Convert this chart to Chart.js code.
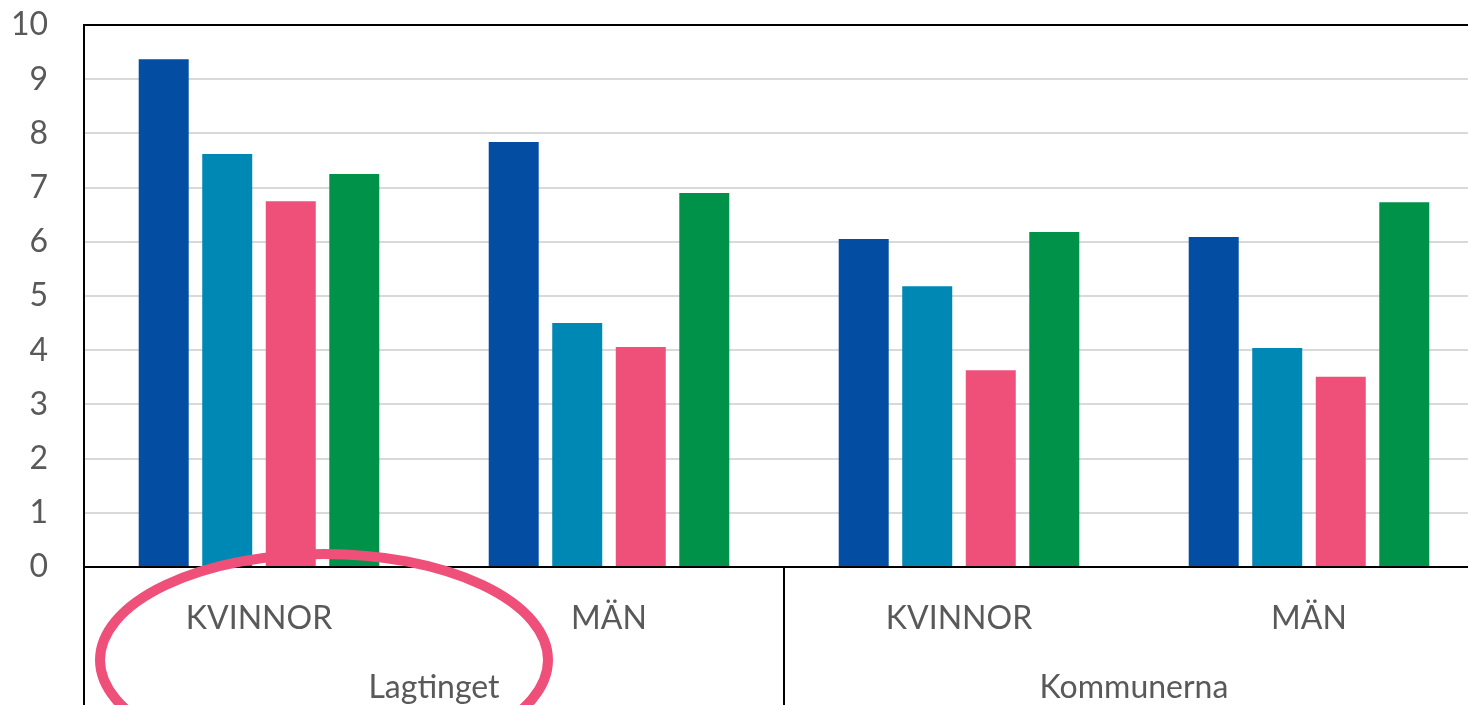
<!DOCTYPE html>
<html>
<head>
<meta charset="utf-8">
<script src="https://cdn.jsdelivr.net/npm/chart.js@4.4.1/dist/chart.umd.min.js"></script>
<style>
  html, body { margin: 0; padding: 0; background: #ffffff; overflow: hidden; }
  #wrap { width: 1484px; height: 705px; }
</style>
</head>
<body>
<div id="wrap"><canvas id="c" width="1484" height="705"></canvas></div>
<script>
const categories = ["KVINNOR", "MÄN", "KVINNOR", "MÄN"];
const groups = ["Lagtinget", "Kommunerna"];
const yTicks = [0, 1, 2, 3, 4, 5, 6, 7, 8, 9, 10];
const series1 = [9.37, 7.84, 6.05, 6.09];
const series2 = [7.62, 4.50, 5.18, 4.04];
const series3 = [6.75, 4.06, 3.63, 3.51];
const series4 = [7.25, 6.90, 6.18, 6.73];

const FONT = "Lato, 'Open Sans', sans-serif";
const TEXT = "#595959";

const extras = {
  id: "extras",
  afterDraw(chart) {
    const ctx = chart.ctx;
    const x = chart.scales.x;
    const area = chart.chartArea;
    ctx.save();
    ctx.strokeStyle = "#000000";
    ctx.lineWidth = 2;
    [ -0.5, 1.5, 3.5 ].forEach(v => {
      const px = Math.round(x.getPixelForValue(v));
      ctx.beginPath();
      ctx.moveTo(px, area.bottom);
      ctx.lineTo(px, chart.height);
      ctx.stroke();
    });
    ctx.fillStyle = TEXT;
    ctx.font = "32px " + FONT;
    ctx.textAlign = "center";
    ctx.textBaseline = "middle";
    groups.forEach((g, i) => {
      const cx = (x.getPixelForValue(i * 2) + x.getPixelForValue(i * 2 + 1)) / 2;
      ctx.fillText(g, cx, 688);
    });
    ctx.strokeStyle = "#EF5079";
    ctx.lineWidth = 10;
    ctx.beginPath();
    ctx.ellipse(324, 660, 224, 106, 0, 0, Math.PI * 2);
    ctx.stroke();
    ctx.restore();
  }
};

new Chart(document.getElementById("c"), {
  type: "bar",
  data: {
    labels: categories,
    datasets: [
      { label: "Serie 1", data: series1, backgroundColor: "#034EA2" },
      { label: "Serie 2", data: series2, backgroundColor: "#0088B4" },
      { label: "Serie 3", data: series3, backgroundColor: "#EF5079" },
      { label: "Serie 4", data: series4, backgroundColor: "#009249" }
    ]
  },
  options: {
    responsive: false,
    animation: false,
    layout: { padding: { top: 25, right: 0, bottom: 0, left: 0 } },
    datasets: { bar: { categoryPercentage: 0.726, barPercentage: 0.787 } },
    plugins: { legend: { display: false }, tooltip: { enabled: false } },
    scales: {
      x: {
        grid: { display: false, drawTicks: false },
        border: { display: true, color: "#000000", width: 2 },
        ticks: { color: TEXT, font: { family: FONT, size: 32 }, padding: 32, maxRotation: 0 },
        afterFit(s) { s.height = 138; s.paddingLeft = 0; s.paddingRight = 0; s.paddingTop = 0; s.paddingBottom = 0; }
      },
      y: {
        min: 0, max: 10,
        afterBuildTicks(s) { s.ticks = yTicks.map(v => ({ value: v })); },
        grid: {
          drawTicks: false,
          lineWidth: 2,
          color: c => (c.tick && c.tick.value === 10) ? "#000000" : "#D9D9D9"
        },
        border: { display: true, color: "#000000", width: 2 },
        ticks: { color: TEXT, font: { family: FONT, size: 32 }, padding: 36 },
        afterFit(s) { s.width = 84; s.paddingTop = 0; s.paddingBottom = 0; s.paddingLeft = 0; s.paddingRight = 0; }
      }
    }
  },
  plugins: [extras]
});
</script>
</body>
</html>
